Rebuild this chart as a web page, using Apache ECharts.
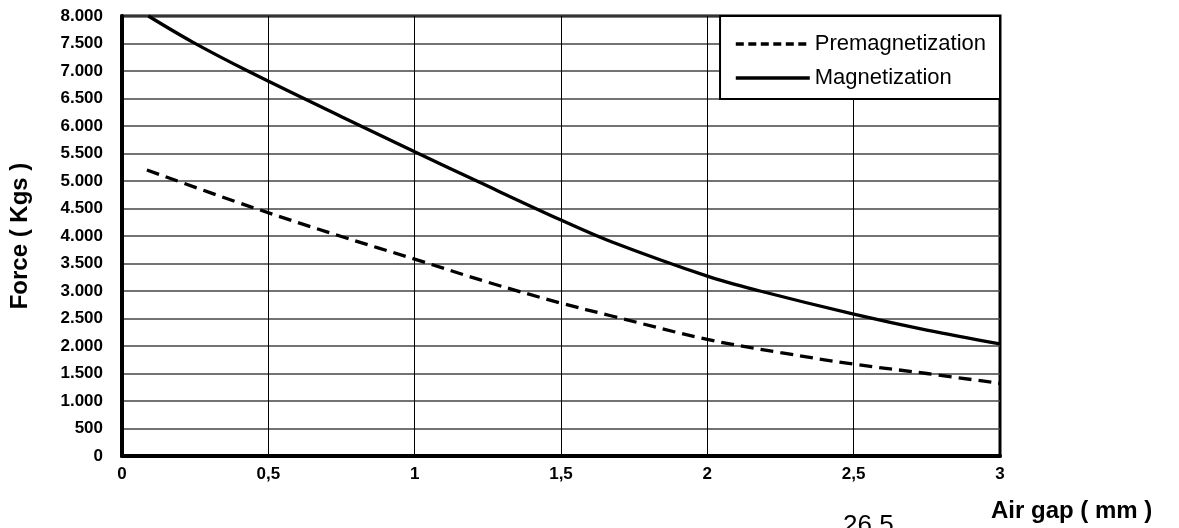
<!DOCTYPE html>
<html>
<head>
<meta charset="utf-8">
<script src="https://cdn.jsdelivr.net/npm/echarts@6/dist/echarts.min.js"></script>
<style>
html,body{margin:0;padding:0;background:#fff;}
#c{width:1179px;height:528px;}
</style>
</head>
<body>
<div id="c"></div>
<script>
const seriesNames = ['Premagnetization', 'Magnetization'];
const premagX = [0.085, 0.44, 0.75, 1.0, 1.25, 1.5, 1.67, 2.0, 2.25, 2.5, 2.75, 3.0];
const premagY = [5200, 4530, 3990, 3580, 3160, 2780, 2550, 2120, 1880, 1670, 1500, 1320];
const magX = [0.09, 0.24, 0.43, 0.75, 1.0, 1.22, 1.5, 1.67, 2.0, 2.18, 2.5, 2.75, 3.0];
const magY = [8000, 7530, 7000, 6170, 5530, 4980, 4290, 3900, 3270, 3000, 2580, 2290, 2040];
const xTitle = 'Air gap ( mm )';
const yTitle = 'Force ( Kgs )';
const strayText = '26,5';

const FONT = '"Liberation Sans", Arial, sans-serif';
const zip = (xs, ys) => xs.map((x, i) => [x, ys[i]]);

const chart = echarts.init(document.getElementById('c'));
chart.setOption({
  animation: false,
  backgroundColor: '#fff',
  grid: {
    left: 122, right: 179, top: 16, bottom: 72,
    outerBoundsMode: 'none', containLabel: false,
    show: true, borderColor: '#000', borderWidth: 3, backgroundColor: '#fff'
  },
  legend: {
    data: [
      { name: seriesNames[0], lineStyle: { type: [8, 4.5], width: 3.5, color: '#000' } },
      { name: seriesNames[1], lineStyle: { type: 'solid', width: 3.5, color: '#000' } }
    ],
    orient: 'vertical',
    right: 179, top: 16,
    backgroundColor: '#fff',
    borderColor: '#000', borderWidth: 2,
    borderRadius: 0,
    padding: [17, 14, 10, 14],
    itemGap: 12,
    itemWidth: 74, itemHeight: 14,
    itemTextGap: 18,
    itemStyle: { opacity: 0 },
    textStyle: { fontFamily: FONT, fontSize: 22, color: '#000' }
  },
  xAxis: {
    type: 'value', min: 0, max: 3, interval: 0.5,
    axisLine: { show: true, onZero: false, lineStyle: { color: '#000', width: 4 } },
    axisTick: { show: false },
    axisLabel: {
      margin: 10, color: '#000', fontFamily: FONT, fontSize: 17, fontWeight: 'bold',
      formatter: v => String(v).replace('.', ',')
    },
    splitLine: { show: true, lineStyle: { color: '#000', width: 1 } }
  },
  yAxis: {
    type: 'value', min: 0, max: 8000, interval: 500,
    name: yTitle, nameLocation: 'middle', nameGap: 90,
    nameTextStyle: { fontFamily: FONT, fontSize: 24, fontWeight: 'bold', color: '#000' },
    axisLine: { show: true, onZero: false, lineStyle: { color: '#000', width: 4 } },
    axisTick: { show: false },
    axisLabel: {
      margin: 19, color: '#000', fontFamily: FONT, fontSize: 17, fontWeight: 'bold',
      formatter: v => v >= 1000 ? (Math.floor(v / 1000) + '.' + String(v % 1000).padStart(3, '0')) : String(v)
    },
    splitLine: { show: true, lineStyle: { color: '#444', width: 1.6 } }
  },
  series: [
    {
      name: seriesNames[0], type: 'line', data: zip(premagX, premagY),
      symbol: 'none', smooth: 0.35,
      lineStyle: { color: '#000', width: 3.3, type: [13, 7] },
      itemStyle: { color: '#000' }
    },
    {
      name: seriesNames[1], type: 'line', data: zip(magX, magY),
      symbol: 'none', smooth: 0.35,
      lineStyle: { color: '#000', width: 3.3, type: 'solid' },
      itemStyle: { color: '#000' }
    }
  ],
  graphic: [
    {
      type: 'text', left: 991, top: 499,
      style: { text: xTitle, fontFamily: FONT, fontSize: 24, fontWeight: 'bold', fill: '#000' }
    },
    {
      type: 'text', left: 843, top: 513,
      style: { text: strayText, fontFamily: FONT, fontSize: 26, fill: '#000' }
    }
  ]
});
</script>
</body>
</html>
